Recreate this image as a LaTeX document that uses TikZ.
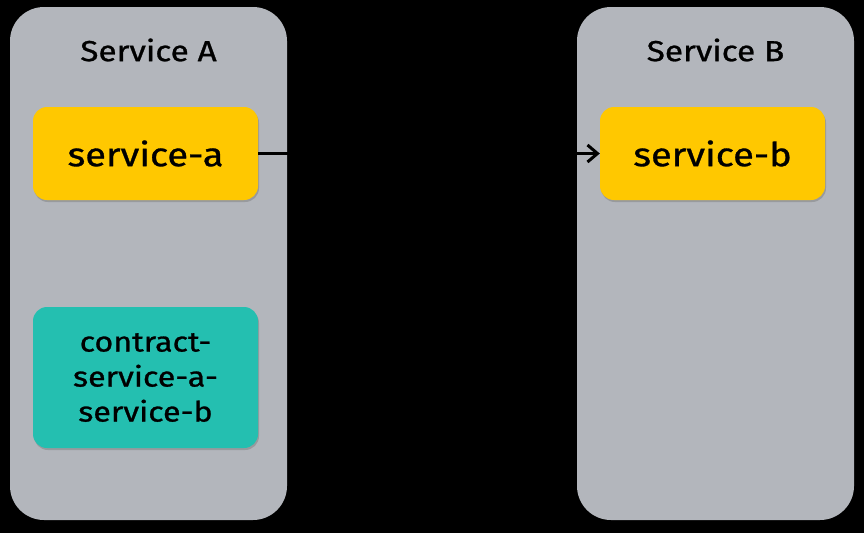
\documentclass[tikz,border=0pt]{standalone}
\usepackage{fontspec}
\setmainfont{Fira Sans}[FakeStretch=1.15,FakeBold=0.9]
\usetikzlibrary{arrows.meta,shadows}
\definecolor{panelgray}{RGB}{179,182,188}
\definecolor{svcyellow}{RGB}{255,200,0}
\definecolor{svcteal}{RGB}{36,191,176}
\tikzset{
  panel/.style={fill=panelgray, draw=none, rounded corners=34pt, minimum width=277pt, minimum height=513pt, inner sep=0pt},
  svcbox/.style={fill=svcyellow, draw=none, rounded corners=14pt, minimum width=225pt, minimum height=93pt, inner sep=0pt,
    drop shadow={shadow xshift=1pt, shadow yshift=-2pt, opacity=0.35, fill=black!60}, font=\fontsize{33}{38}\selectfont},
  contractbox/.style={svcbox, fill=svcteal, minimum height=141pt, align=center, font=\fontsize{28}{35}\selectfont},
  paneltitle/.style={font=\fontsize{29}{32}\selectfont, inner sep=0pt},
  conn/.style={line width=2.2pt, -{Straight Barb[length=10pt,width=17pt,line width=3pt]}}
}
\begin{document}
\begin{tikzpicture}[x=1pt,y=-1pt]
\useasboundingbox[fill=black] (0,0) rectangle (864,533);
\node[panel] (pa) at (148.5,263.5) {};
\node[panel] (pb) at (715.5,263.5) {};
\node[paneltitle] (ta) at (148.5,50) {Service A};
\node[paneltitle] (tb) at (715.5,50) {Service B};
\node[svcbox] (sa) at (145.5,153.5) {service-a};
\node[svcbox] (sb) at (712.5,153.5) {service-b};
\node[contractbox] (ct) at (145.5,377.5) {contract-\\service-a-\\service-b};
\draw[conn] (sa.east) -- (sb.west);
\end{tikzpicture}
\end{document}
